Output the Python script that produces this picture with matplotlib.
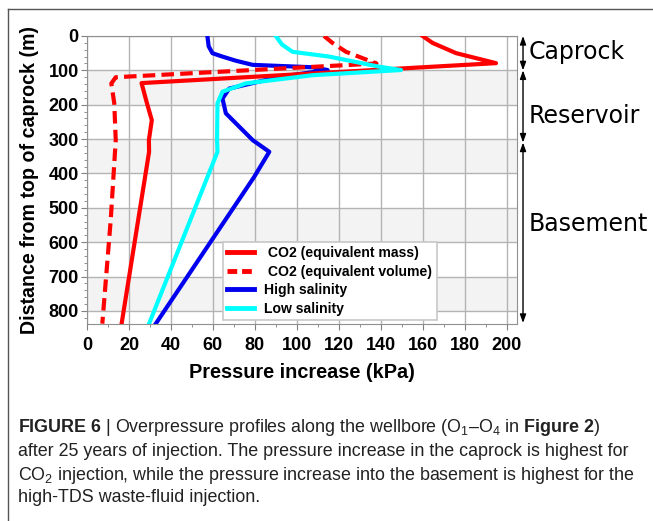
import matplotlib
matplotlib.use("Agg")
import matplotlib.pyplot as plt
from matplotlib.ticker import MultipleLocator
from matplotlib.lines import Line2D
import matplotlib.transforms as mtransforms
from matplotlib import font_manager

# ---------------- data ----------------
co2_mass_depth = [0, 20, 50, 79, 137, 196, 245, 303, 337, 837]
co2_mass_kpa = [160, 164.7, 176, 195, 26, 28.6, 30.9, 29.5, 29.6, 16.5]

co2_vol_depth = [0, 20, 46, 80, 120, 138, 196, 303, 536, 837]
co2_vol_kpa = [113, 117, 123.5, 138, 13.7, 11.6, 13, 13.7, 11.3, 7.3]

hs_depth = [0, 30, 50, 60, 72, 84, 91, 99, 119, 153, 182, 225, 264, 303, 337, 410, 837]
hs_kpa = [57.4, 58, 59.8, 64.6, 71, 79, 107.5, 114.7, 91.6, 67.8, 64.6, 66.2, 72.6, 79, 86.9, 79.7, 32.8]

ls_depth = [0, 25, 46, 60, 89, 99, 114, 138, 162, 196, 303, 337, 837]
ls_kpa = [90, 93, 98, 115.5, 139, 149.7, 107.6, 75.7, 64.6, 62.2, 62, 62.2, 29.6]

legend_labels = [" CO2 (equivalent mass)", " CO2 (equivalent volume)", "High salinity", "Low salinity"]
x_ticks = [0, 20, 40, 60, 80, 100, 120, 140, 160, 180, 200]
y_ticks = [0, 100, 200, 300, 400, 500, 600, 700, 800]
zones = ["Caprock", "Reservoir", "Basement"]
zone_bounds = [0, 100, 310, 835]
zone_label_depth = [47, 233, 548]

# ---------------- fonts ----------------
names = {f.name for f in font_manager.fontManager.ttflist}
cap_font = "Liberation Sans Narrow" if "Liberation Sans Narrow" in names else "Liberation Sans"
plt.rcParams['font.family'] = ['Liberation Sans', 'DejaVu Sans']
plt.rcParams['mathtext.fontset'] = 'custom'
plt.rcParams['mathtext.rm'] = cap_font
plt.rcParams['mathtext.it'] = cap_font + ':italic'
plt.rcParams['mathtext.bf'] = cap_font + ':bold'

fig = plt.figure(figsize=(6.53, 5.21), dpi=100)
W, H = 653, 521
ax = fig.add_axes([87 / W, 1 - 324 / H, (517 - 87) / W, (324 - 36) / H])

ax.set_xlim(0, 205)
ax.set_ylim(838, 0)

# alternating bands
for y0 in [100, 300, 500, 700]:
    ax.axhspan(y0, y0 + 100, color='#f3f3f3', zorder=0, lw=0)

ax.xaxis.set_minor_locator(MultipleLocator(10))
ax.yaxis.set_minor_locator(MultipleLocator(20))
ax.set_xticks(x_ticks)
ax.set_yticks(y_ticks)
ax.grid(True, which='major', color='#b4b4b4', lw=1.0, zorder=1)
ax.set_axisbelow(True)
for s in ax.spines.values():
    s.set_color('#909090')
ax.tick_params(which='major', direction='out', length=4, color='#808080',
               labelsize=13, pad=2)
ax.tick_params(axis='x', which='major', pad=5)
ax.tick_params(which='minor', direction='out', length=2, color='#808080')
for lab in ax.get_xticklabels() + ax.get_yticklabels():
    lab.set_fontweight('bold')

ax.plot(hs_kpa, hs_depth, color='#0000ee', lw=3, zorder=3, solid_joinstyle='round')
ax.plot(ls_kpa, ls_depth, color='#00ffff', lw=3, zorder=4, solid_joinstyle='round')
ax.plot(co2_vol_kpa, co2_vol_depth, color='#ff0000', lw=3, ls=(0, (3.0, 1.5)), zorder=3)
ax.plot(co2_mass_kpa, co2_mass_depth, color='#ff0000', lw=3, zorder=3, solid_joinstyle='round')

ax.set_xlabel("Pressure increase (kPa)", fontsize=14.3, fontweight='bold', labelpad=7)
ax.set_ylabel("Distance from top of caprock (m)", fontsize=14.1, fontweight='bold', labelpad=7)

handles = [Line2D([], [], color='#ff0000', lw=3.5),
           Line2D([], [], color='#ff0000', lw=3.5, ls=(0, (2.0, 1.0))),
           Line2D([], [], color='#0000ee', lw=3.5),
           Line2D([], [], color='#00ffff', lw=3.5)]
leg = ax.legend(handles, legend_labels, loc='lower left',
                bbox_to_anchor=(223 / W, 1 - 320 / H), bbox_transform=fig.transFigure,
                prop={'weight': 'bold', 'size': 10.1}, frameon=True, fancybox=False,
                edgecolor='#c8c8c8', framealpha=1, handlelength=1.9,
                handletextpad=0.75, labelspacing=0.33, borderpad=0.3, borderaxespad=0)
leg.get_frame().set_linewidth(1.2)
leg.set_zorder(10)

# zone arrows
tr = mtransforms.blended_transform_factory(ax.transAxes, ax.transData)
for i in range(3):
    ax.annotate("", xy=(1.014, zone_bounds[i]), xytext=(1.014, zone_bounds[i + 1]),
                xycoords=tr, textcoords=tr, annotation_clip=False,
                arrowprops=dict(arrowstyle='<|-|>,head_length=0.5,head_width=0.18',
                                color='black', lw=1.0, shrinkA=0, shrinkB=0))
    ax.text(1.026, zone_label_depth[i], zones[i], transform=tr, ha='left', va='center',
            fontsize=17, family='DejaVu Sans', clip_on=False)

# border lines
fig.add_artist(Line2D([8 / W, 1], [1 - 9 / H, 1 - 9 / H], transform=fig.transFigure,
                      color='#555555', lw=1.0))
fig.add_artist(Line2D([8 / W, 8 / W], [0, 1 - 9 / H], transform=fig.transFigure,
                      color='#555555', lw=1.0))

# caption
cap_lines = [
    r"$\mathbf{FIGURE\ 6}$ | Overpressure profiles along the wellbore (O$_1$–O$_4$ in $\mathbf{Figure\ 2}$)",
    "after 25 years of injection. The pressure increase in the caprock is highest for",
    r"CO$_2$ injection, while the pressure increase into the basement is highest for the",
    "high-TDS waste-fluid injection.",
]
cap_y = [428, 451, 475, 498]
for t, y in zip(cap_lines, cap_y):
    fig.text(18 / W, 1 - y / H, t, ha='left', va='center', fontsize=12.85,
             family=[cap_font, 'DejaVu Sans'], color='#222222')

fig.savefig("out.png", dpi=100)
